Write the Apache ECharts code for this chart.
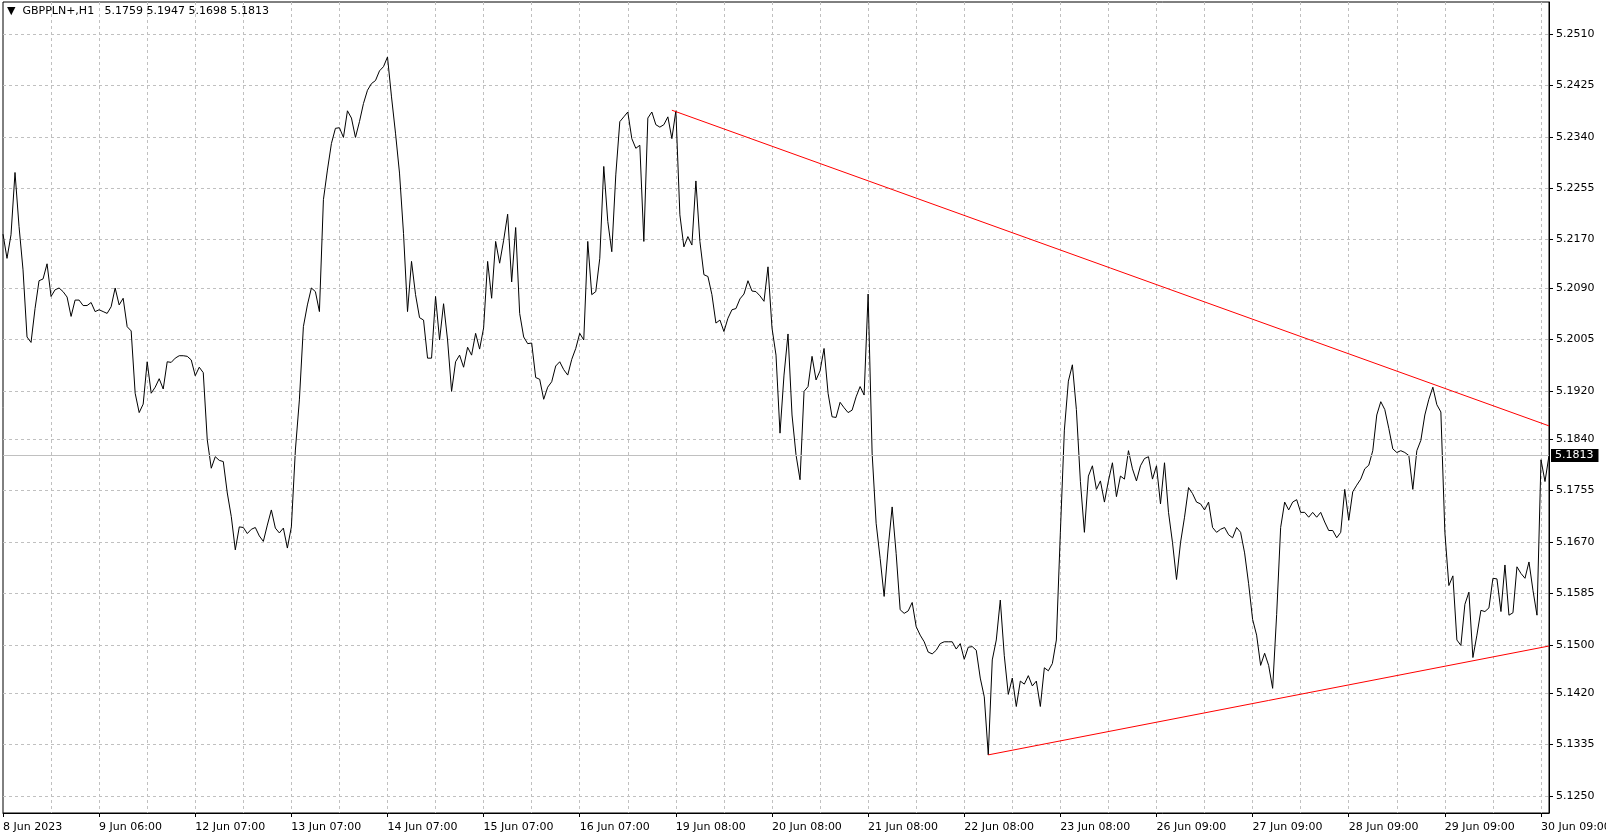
<!DOCTYPE html>
<html>
<head>
<meta charset="utf-8">
<title>GBPPLN+,H1</title>
<script src="https://cdn.jsdelivr.net/npm/echarts@6/dist/echarts.min.js"></script>
<style>
  html, body { margin: 0; padding: 0; background: #fff; }
  #chart { width: 1606px; height: 838px; }
</style>
</head>
<body>
<div id="chart"></div>
<script>
const symbolName = 'GBPPLN+,H1'
const ohlc = ['5.1759', '5.1947', '5.1698', '5.1813']
const lastPrice = 5.1813

// one label every 24 hourly bars, a grid line every 12
const timeLabels = [
  '8 Jun 2023', '9 Jun 06:00', '12 Jun 07:00', '13 Jun 07:00', '14 Jun 07:00',
  '15 Jun 07:00', '16 Jun 07:00', '19 Jun 08:00', '20 Jun 08:00', '21 Jun 08:00',
  '22 Jun 08:00', '23 Jun 08:00', '26 Jun 09:00', '27 Jun 09:00', '28 Jun 09:00',
  '29 Jun 09:00', '30 Jun 09:00'
]
const labelEvery = 24
const gridEvery = 12

const priceTicks = [
  5.2510, 5.2425, 5.2340, 5.2255, 5.2170, 5.2090, 5.2005, 5.1920,
  5.1840, 5.1755, 5.1670, 5.1585, 5.1500, 5.1420, 5.1335, 5.1250
]

// H1 close prices, one per bar
const closes = [
  5.2179, 5.2139, 5.2178, 5.2281, 5.2192, 5.2120, 5.2009, 5.2000, 5.2056, 5.2102,
  5.2105, 5.2130, 5.2076, 5.2087, 5.2090, 5.2084, 5.2075, 5.2043, 5.2070, 5.2070,
  5.2061, 5.2061, 5.2066, 5.2051, 5.2054, 5.2051, 5.2048, 5.2059, 5.2090, 5.2062,
  5.2073, 5.2026, 5.2019, 5.1916, 5.1884, 5.1898, 5.1968, 5.1916, 5.1926, 5.1940,
  5.1923, 5.1968, 5.1967, 5.1974, 5.1978, 5.1978, 5.1977, 5.1971, 5.1945, 5.1959,
  5.1950, 5.1839, 5.1792, 5.1811, 5.1805, 5.1803, 5.1751, 5.1712, 5.1657, 5.1695,
  5.1694, 5.1684, 5.1691, 5.1694, 5.1680, 5.1671, 5.1698, 5.1723, 5.1693, 5.1685,
  5.1693, 5.1660, 5.1695, 5.1822, 5.1905, 5.2026, 5.2062, 5.2090, 5.2084, 5.2051,
  5.2236, 5.2285, 5.2329, 5.2354, 5.2355, 5.2339, 5.2383, 5.2371, 5.2339, 5.2365,
  5.2395, 5.2417, 5.2428, 5.2433, 5.2449, 5.2456, 5.2472, 5.2406, 5.2346, 5.2280,
  5.2180, 5.2051, 5.2134, 5.2079, 5.2041, 5.2037, 5.1974, 5.1974, 5.2076, 5.2004,
  5.2064, 5.2004, 5.1919, 5.1968, 5.1979, 5.1959, 5.1992, 5.1979, 5.2015, 5.1989,
  5.2024, 5.2134, 5.2073, 5.2167, 5.2131, 5.2169, 5.2212, 5.2100, 5.2190, 5.2048,
  5.2009, 5.1998, 5.1999, 5.1942, 5.1939, 5.1906, 5.1926, 5.1935, 5.1961, 5.1968,
  5.1955, 5.1946, 5.1972, 5.1990, 5.2015, 5.2004, 5.2167, 5.2079, 5.2084, 5.2139,
  5.2291, 5.2200, 5.2150, 5.2277, 5.2365, 5.2373, 5.2381, 5.2337, 5.2321, 5.2326,
  5.2167, 5.2371, 5.2381, 5.2360, 5.2356, 5.2360, 5.2373, 5.2337, 5.2383, 5.2211,
  5.2158, 5.2175, 5.2161, 5.2267, 5.2167, 5.2112, 5.2109, 5.2079, 5.2032, 5.2037,
  5.2018, 5.2040, 5.2054, 5.2056, 5.2072, 5.2080, 5.2102, 5.2085, 5.2084, 5.2077,
  5.2068, 5.2125, 5.2024, 5.1979, 5.1850, 5.1946, 5.2014, 5.1880, 5.1814, 5.1773,
  5.1919, 5.1927, 5.1977, 5.1938, 5.1953, 5.1990, 5.1916, 5.1877, 5.1876, 5.1901,
  5.1892, 5.1884, 5.1888, 5.1910, 5.1927, 5.1913, 5.2080, 5.1817, 5.1701, 5.1643,
  5.1580, 5.1660, 5.1728, 5.1651, 5.1558, 5.1552, 5.1556, 5.1570, 5.1530, 5.1516,
  5.1505, 5.1488, 5.1485, 5.1491, 5.1502, 5.1505, 5.1505, 5.1505, 5.1493, 5.1502,
  5.1476, 5.1496, 5.1497, 5.1491, 5.1445, 5.1414, 5.1318, 5.1475, 5.1508, 5.1574,
  5.1482, 5.1418, 5.1445, 5.1398, 5.1440, 5.1435, 5.1449, 5.1432, 5.1440, 5.1398,
  5.1462, 5.1457, 5.1469, 5.1508, 5.1686, 5.1855, 5.1936, 5.1963, 5.1889, 5.1770,
  5.1686, 5.1779, 5.1796, 5.1757, 5.1771, 5.1736, 5.1771, 5.1801, 5.1745, 5.1779,
  5.1774, 5.1821, 5.1791, 5.1771, 5.1796, 5.1808, 5.1811, 5.1774, 5.1796, 5.1733,
  5.1801, 5.1719, 5.1669, 5.1608, 5.1669, 5.1711, 5.1760, 5.1750, 5.1736, 5.1733,
  5.1723, 5.1736, 5.1694, 5.1686, 5.1691, 5.1694, 5.1682, 5.1677, 5.1694, 5.1686,
  5.1652, 5.1601, 5.1542, 5.1516, 5.1466, 5.1486, 5.1466, 5.1428, 5.1550, 5.1694,
  5.1736, 5.1723, 5.1736, 5.1740, 5.1719, 5.1719, 5.1711, 5.1719, 5.1711, 5.1719,
  5.1703, 5.1689, 5.1689, 5.1677, 5.1686, 5.1757, 5.1706, 5.1753, 5.1764, 5.1774,
  5.1791, 5.1797, 5.1821, 5.1880, 5.1902, 5.1889, 5.1858, 5.1824, 5.1818, 5.1821,
  5.1818, 5.1813, 5.1757, 5.1821, 5.1838, 5.1880, 5.1906, 5.1926, 5.1897, 5.1885,
  5.1686, 5.1598, 5.1614, 5.1508, 5.1499, 5.1567, 5.1587, 5.1479, 5.1516, 5.1557,
  5.1555, 5.1561, 5.1610, 5.1609, 5.1555, 5.1632, 5.1549, 5.1553, 5.1629, 5.1618,
  5.1610, 5.1637, 5.1590, 5.1549, 5.1806, 5.1770, 5.1813
]

// trend lines: [bar index, price]
const upperTrend = [[167, 5.2384], [386, 5.1862]]
const lowerTrend = [[246, 5.1318], [386, 5.1498]]

const priceMin = 5.12219
const priceMax = 5.25629

const font = 'DejaVu Sans'
const bars = closes.map((_, i) => i)

const chart = echarts.init(document.getElementById('chart'))

chart.setOption({
  animation: false,
  backgroundColor: '#ffffff',
  textStyle: { fontFamily: font },
  title: {
    text: '\u25BC  ' + symbolName + '   ' + ohlc.join(' '),
    left: 7,
    top: 6,
    padding: 0,
    textStyle: { fontSize: 11, fontWeight: 'normal', color: '#000', fontFamily: font }
  },
  grid: {
    left: 3,
    right: 57,
    top: 2,
    bottom: 25,
    show: true,
    borderColor: '#000',
    borderWidth: 1,
    backgroundColor: '#fff',
    outerBoundsMode: 'none'
  },
  xAxis: {
    type: 'category',
    data: bars,
    boundaryGap: false,
    axisLine: { show: true, lineStyle: { color: '#000', width: 1 } },
    axisTick: {
      show: true,
      length: 4,
      interval: (idx) => idx % labelEvery === 0,
      lineStyle: { color: '#000' }
    },
    axisLabel: {
      interval: (idx) => idx % labelEvery === 0,
      formatter: (v, idx) => timeLabels[idx / labelEvery] ?? '',
      align: 'left',
      margin: 9,
      color: '#000',
      fontSize: 11,
      fontFamily: font
    },
    splitLine: {
      show: true,
      interval: (idx) => idx > 0 && idx % gridEvery === 0,
      lineStyle: { color: '#c0c0c0', type: [3, 3], width: 1 }
    }
  },
  yAxis: {
    type: 'value',
    position: 'right',
    min: priceMin,
    max: priceMax,
    scale: true,
    axisLine: { show: true, lineStyle: { color: '#000', width: 1 } },
    axisTick: {
      show: true,
      length: 4,
      customValues: priceTicks,
      lineStyle: { color: '#000' }
    },
    axisLabel: {
      customValues: priceTicks,
      formatter: (v) => v.toFixed(4),
      margin: 7,
      color: '#000',
      fontSize: 11,
      fontFamily: font
    },
    splitLine: {
      show: true,
      lineStyle: { color: '#c0c0c0', type: [3, 3], width: 1 }
    }
  },
  series: [
    {
      name: symbolName,
      type: 'line',
      data: closes,
      symbol: 'none',
      lineStyle: { color: '#000', width: 1 },
      z: 3,
      markLine: {
        silent: true,
        precision: 4,
        symbol: ['none', 'none'],
        lineStyle: { color: '#c0c0c0', type: 'solid', width: 1 },
        label: {
          show: true,
          position: 'end',
          distance: 2,
          formatter: () => lastPrice.toFixed(4),
          backgroundColor: '#000',
          color: '#fff',
          padding: [1, 5, 1, 4],
          fontSize: 11,
          fontFamily: font
        },
        data: [{ yAxis: lastPrice }]
      }
    },
    {
      name: 'upper trend',
      type: 'line',
      data: upperTrend,
      symbol: 'none',
      lineStyle: { color: '#ff0000', width: 1 },
      z: 4
    },
    {
      name: 'lower trend',
      type: 'line',
      data: lowerTrend,
      symbol: 'none',
      lineStyle: { color: '#ff0000', width: 1 },
      z: 4
    }
  ]
})
</script>
</body>
</html>
